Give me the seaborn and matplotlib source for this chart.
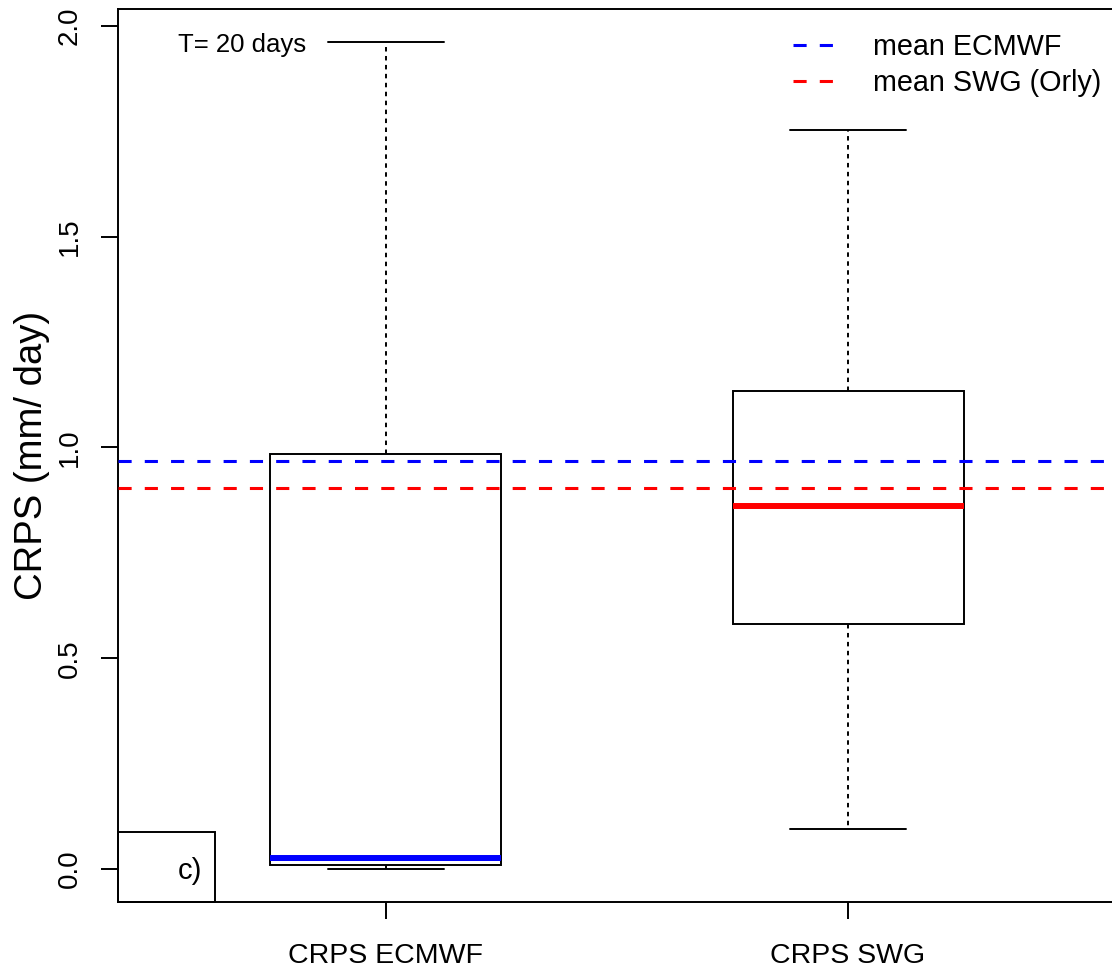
import matplotlib
matplotlib.use("Agg")
import matplotlib.pyplot as plt
import seaborn as sns
import pandas as pd
from matplotlib.patches import Rectangle

# ---- data ----
categories = ["CRPS ECMWF", "CRPS SWG"]
# five-number summaries (min whisker, Q1, median, Q3, max whisker)
ecmwf_summary = [0.0, 0.01, 0.025, 0.985, 1.962]
swg_summary = [0.095, 0.582, 0.862, 1.133, 1.753]
median_colors = ["blue", "red"]
mean_labels = ["mean ECMWF", "mean SWG (Orly)"]
mean_values = [0.969, 0.905]
mean_colors = ["blue", "red"]
yticks = [0.0, 0.5, 1.0, 1.5, 2.0]
ytick_labels = ["0.0", "0.5", "1.0", "1.5", "2.0"]

df = pd.DataFrame({
    "model": [categories[0]] * len(ecmwf_summary) + [categories[1]] * len(swg_summary),
    "crps": ecmwf_summary + swg_summary,
})

sns.set_style("white")
plt.rcParams["font.family"] = ["Liberation Sans", "DejaVu Sans"]
plt.rcParams["text.color"] = "black"
plt.rcParams["axes.labelcolor"] = "black"

W, H = 1112, 972
fig = plt.figure(figsize=(W / 100, H / 100), dpi=100)
ax = fig.add_axes([118 / W, 70 / H, (1116 - 118) / W, (902 - 9) / H])

sns.boxplot(
    data=df, x="model", y="crps", order=categories, ax=ax,
    width=0.5, color="white", linecolor="black", linewidth=1.4,
    whis=1.5, showfliers=False,
    medianprops=dict(linewidth=4.3),
    whiskerprops=dict(linestyle=(0, (2.3, 2.3))),
)

meds = []
for c in ax.containers:
    meds.extend(list(getattr(c, "medians", [])))
for m, col in zip(meds, median_colors):
    m.set_color(col)

handles = []
for val, col, lab in zip(mean_values, mean_colors, mean_labels):
    h = ax.axhline(val, color=col, linestyle=(0, (4.3, 4.3)), linewidth=2.2, label=lab, zorder=5)
    handles.append(h)

ax.set_xlim(-0.58, 1.58)
ax.set_ylim(-0.0785, 2.0405)
ax.set_yticks(yticks)
ax.set_yticklabels(ytick_labels)
ax.set_xlabel("")
ax.set_ylabel("CRPS (mm/ day)", fontsize=27.5, labelpad=5, color="black")

for name, s in ax.spines.items():
    s.set_visible(name != "right")
    s.set_color("black")
    s.set_linewidth(1.4)

ax.tick_params(axis="y", length=12.2, width=1.4, pad=13, labelsize=20, labelrotation=90,
               left=True, colors="black")
ax.tick_params(axis="x", length=12.2, width=1.4, pad=17, labelsize=20.5, bottom=True,
               colors="black")
for t in ax.get_yticklabels():
    t.set_va("center")

fig.legend(handles=handles, loc="upper left", bbox_to_anchor=(793 / W, 1 - 33 / H),
           frameon=False, borderpad=0, borderaxespad=0, handlelength=1.53,
           handletextpad=1.25, labelspacing=0.27, fontsize=20.7)

fig.text(178 / W, 1 - 45 / H, "T= 20 days", fontsize=18.5, va="center", ha="left")

fig.patches.append(Rectangle((118 / W, 70 / H), 97 / W, 70 / H, fill=False,
                             edgecolor="black", linewidth=1.4, transform=fig.transFigure,
                             figure=fig))
fig.text(190 / W, 1 - 871 / H, "c)", fontsize=21, va="center", ha="center")

fig.savefig("out.png", dpi=100)
